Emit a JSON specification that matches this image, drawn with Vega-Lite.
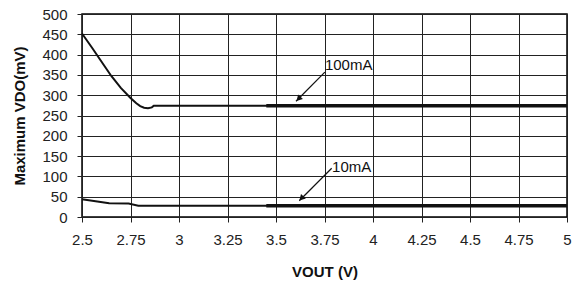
{
  "$schema": "https://vega.github.io/schema/vega-lite/v6.json",
  "width": 485,
  "height": 203,
  "autosize": "none",
  "padding": {"left": 82, "top": 14, "right": 17, "bottom": 70},
  "background": "white",
  "config": {
    "font": "Liberation Sans",
    "view": {"stroke": "black", "strokeWidth": 1.5},
    "axis": {
      "gridColor": "#222",
      "gridOpacity": 1,
      "gridWidth": 1,
      "domain": false,
      "tickColor": "#222",
      "tickSize": 5,
      "labelFont": "Liberation Sans",
      "labelFontSize": 15,
      "labelColor": "#222",
      "titleFont": "Liberation Sans",
      "titleFontWeight": "bold",
      "titleFontSize": 15,
      "titleColor": "#111"
    }
  },
  "datasets": {
    "curves": [
      {"vout": 2.5, "vdo": 452, "load": "100mA"},
      {"vout": 2.55, "vdo": 418, "load": "100mA"},
      {"vout": 2.6, "vdo": 383, "load": "100mA"},
      {"vout": 2.65, "vdo": 348, "load": "100mA"},
      {"vout": 2.7, "vdo": 318, "load": "100mA"},
      {"vout": 2.75, "vdo": 293, "load": "100mA"},
      {"vout": 2.78, "vdo": 280, "load": "100mA"},
      {"vout": 2.8, "vdo": 273, "load": "100mA"},
      {"vout": 2.82, "vdo": 269, "load": "100mA"},
      {"vout": 2.84, "vdo": 268, "load": "100mA"},
      {"vout": 2.86, "vdo": 270, "load": "100mA"},
      {"vout": 2.87, "vdo": 274, "load": "100mA"},
      {"vout": 2.9, "vdo": 274, "load": "100mA"},
      {"vout": 3.45, "vdo": 274, "load": "100mA"},
      {"vout": 5, "vdo": 274, "load": "100mA"},
      {"vout": 2.5, "vdo": 44, "load": "10mA"},
      {"vout": 2.64, "vdo": 34, "load": "10mA"},
      {"vout": 2.74, "vdo": 33, "load": "10mA"},
      {"vout": 2.79, "vdo": 28, "load": "10mA"},
      {"vout": 3.45, "vdo": 28, "load": "10mA"},
      {"vout": 5, "vdo": 28, "load": "10mA"}
    ],
    "labels": [
      {"vout": 3.752, "vdo": 374, "text": "100mA"},
      {"vout": 3.789, "vdo": 122, "text": "10mA"}
    ],
    "arrows": [
      {"vout": 3.752, "vdo": 357, "vout2": 3.603, "vdo2": 285},
      {"vout": 3.787, "vdo": 120, "vout2": 3.62, "vdo2": 40}
    ],
    "heads": [
      {"vout": 3.616, "vdo": 291},
      {"vout": 3.631, "vdo": 46}
    ]
  },
  "encoding": {
    "x": {
      "field": "vout", "type": "quantitative",
      "scale": {"domain": [2.5, 5], "nice": false, "zero": false},
      "axis": {
        "values": [2.5, 2.75, 3, 3.25, 3.5, 3.75, 4, 4.25, 4.5, 4.75, 5],
        "labelExpr": "format(datum.value, '~g')",
        "title": "VOUT (V)",
        "labelPadding": 10,
        "titlePadding": 17,
        "labelFlush": false,
        "labelOverlap": false
      }
    },
    "y": {
      "field": "vdo", "type": "quantitative",
      "scale": {"domain": [0, 500], "nice": false},
      "axis": {
        "values": [0, 50, 100, 150, 200, 250, 300, 350, 400, 450, 500],
        "title": "Maximum VDO(mV)",
        "labelPadding": 10,
        "titlePadding": 14,
        "labelFlush": false,
        "labelOverlap": false
      }
    }
  },
  "layer": [
    {
      "data": {"name": "curves"},
      "mark": {"type": "line", "color": "#111", "strokeWidth": 2},
      "encoding": {"detail": {"field": "load"}}
    },
    {
      "data": {"name": "curves"},
      "transform": [{"filter": "datum.vout >= 3.45"}],
      "mark": {"type": "line", "color": "#111", "strokeWidth": 3.5},
      "encoding": {"detail": {"field": "load"}}
    },
    {
      "data": {"name": "arrows"},
      "mark": {"type": "rule", "color": "#111", "strokeWidth": 1.2},
      "encoding": {
        "x2": {"field": "vout2"},
        "y2": {"field": "vdo2"}
      }
    },
    {
      "data": {"name": "heads"},
      "mark": {"type": "point", "shape": "triangle-up", "filled": true, "color": "#111", "size": 45, "angle": 224, "opacity": 1},
      "encoding": {}
    },
    {
      "data": {"name": "labels"},
      "mark": {"type": "text", "align": "left", "baseline": "middle", "fontSize": 15, "color": "#111", "font": "Liberation Sans"},
      "encoding": {"text": {"field": "text"}}
    }
  ]
}
